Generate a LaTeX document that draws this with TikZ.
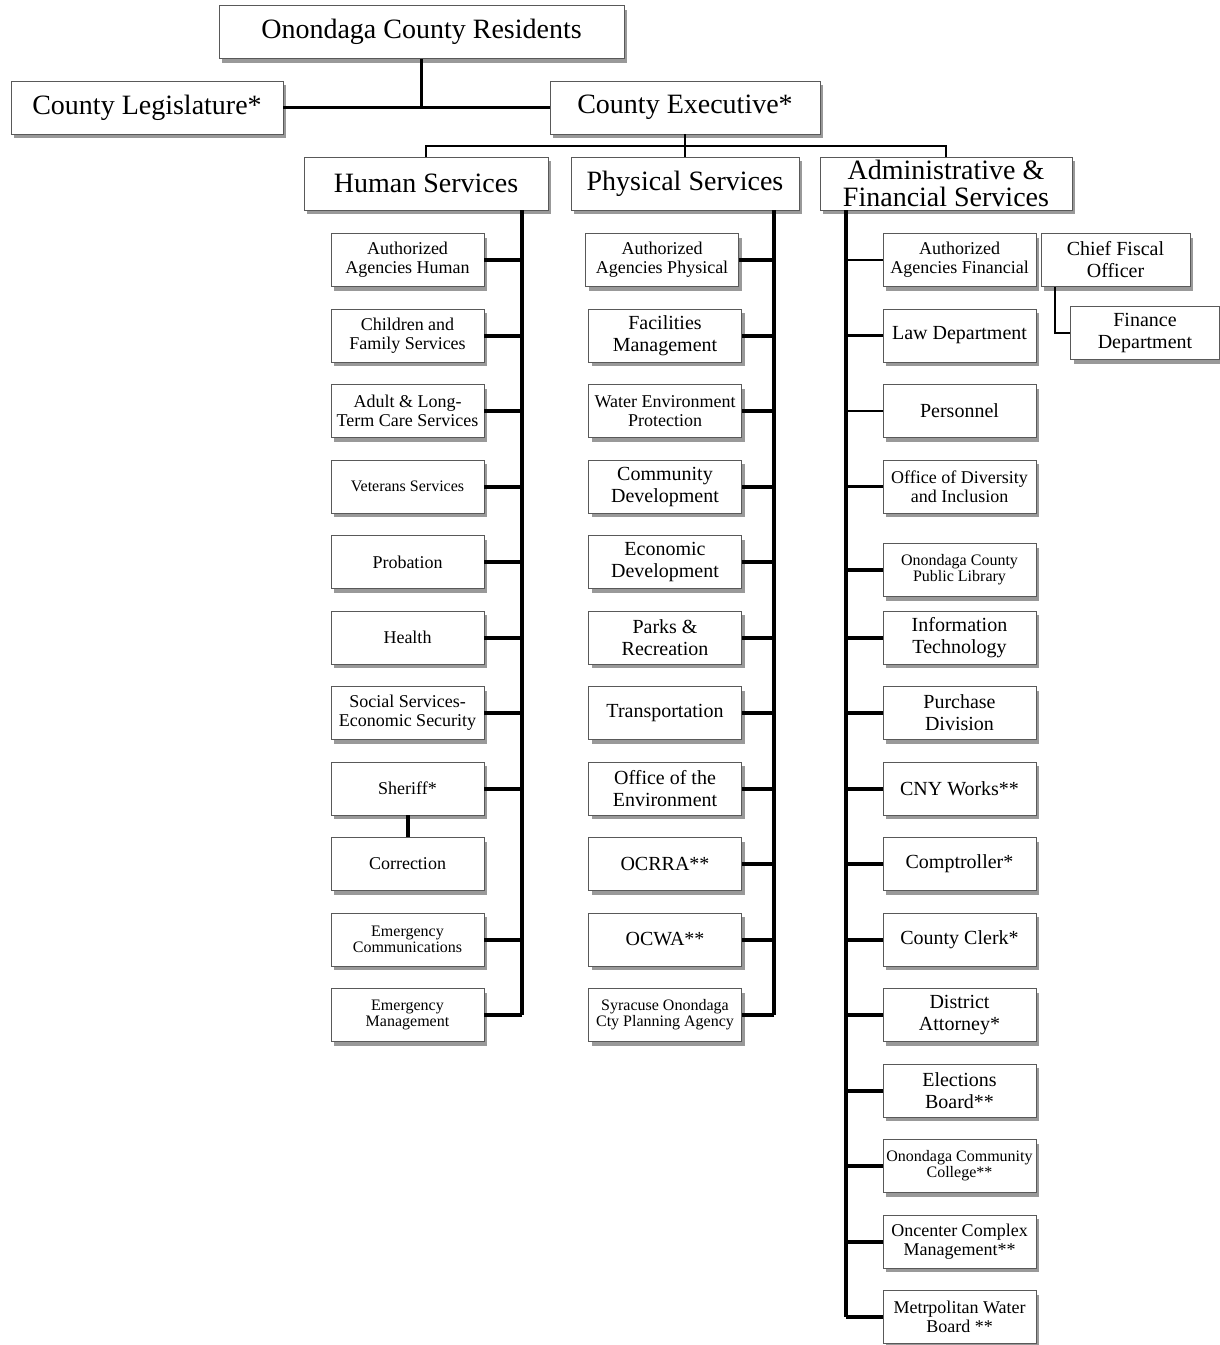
\documentclass[tikz,border=0pt]{standalone}
\usepackage{fontspec}
\setmainfont{Liberation Serif}
\usetikzlibrary{shadows}

\begin{document}
\begin{tikzpicture}[x=1pt,y=-1pt]
		\tikzset{box/.style = {shape=rectangle,draw=black!65,line width=0.9pt,fill=white,
				drop shadow={shadow xshift=3pt,shadow yshift=-4pt,fill=black!40,opacity=1},
				inner sep=1pt,align=center,minimum height=53pt}}
		\tikzset{dept/.style = {box,minimum width=153pt}}
		\tikzset{fbig/.style = {font=\fontsize{28}{27}\selectfont}}
		\tikzset{fmid/.style = {font=\fontsize{20}{22}\selectfont}}
		\tikzset{fsmall/.style = {font=\fontsize{18}{19}\selectfont}}
		\tikzset{ftiny/.style = {font=\fontsize{16}{16}\selectfont}}
		\tikzset{link/.style = {-,line width=2.4pt}}
		\tikzset{trunk/.style = {-,line width=4pt}}
		\useasboundingbox (0,0) rectangle (1220,1345);
		%top
		\node[box,fbig,minimum width=405pt] (res) at (421.5,32) {Onondaga County Residents};
		\node[box,fbig,minimum width=272pt] (leg) at (147,107.5) {County Legislature*};
		\node[box,fbig,minimum width=270pt] (exec) at (685,107.5) {County Executive*};
		\node[box,fbig,minimum width=244pt] (hs) at (426,183.5) {Human Services};
		\node[box,fbig,minimum width=228pt] (ps) at (685,183.5) {Physical Services};
		\node[box,fbig,minimum width=252pt] (afs) at (946,183.5) {Administrative \&\\Financial Services};
		\coordinate (split) at (685,146);
		%human services
		\node[dept,fsmall] (h1) at (407.5,260) {Authorized\\Agencies Human};
		\node[dept,fsmall] (h2) at (407.5,335.5) {Children and\\Family Services};
		\node[dept,fsmall] (h3) at (407.5,411) {Adult \& Long-\\Term Care Services};
		\node[dept,ftiny] (h4) at (407.5,486.5) {Veterans Services};
		\node[dept,fsmall] (h5) at (407.5,562) {Probation};
		\node[dept,fsmall] (h6) at (407.5,637.5) {Health};
		\node[dept,fsmall] (h7) at (407.5,713) {Social Services-\\Economic Security};
		\node[dept,fsmall] (h8) at (407.5,788.5) {Sheriff*};
		\node[dept,fsmall] (h9) at (407.5,864) {Correction};
		\node[dept,ftiny] (h10) at (407.5,939.5) {Emergency\\Communications};
		\node[dept,ftiny] (h11) at (407.5,1015) {Emergency\\Management};
		\coordinate (hend) at (522,1015);
		%physical services
		\node[dept,fsmall] (p1) at (662,260) {Authorized\\Agencies Physical};
		\node[dept,fmid] (p2) at (665,335.5) {Facilities\\Management};
		\node[dept,fsmall] (p3) at (665,411) {Water Environment\\Protection};
		\node[dept,fmid] (p4) at (665,486.5) {Community\\Development};
		\node[dept,fmid] (p5) at (665,562) {Economic\\Development};
		\node[dept,fmid] (p6) at (665,637.5) {Parks \&\\Recreation};
		\node[dept,fmid] (p7) at (665,713) {Transportation};
		\node[dept,fmid] (p8) at (665,788.5) {Office of the\\Environment};
		\node[dept,fmid] (p9) at (665,864) {OCRRA**};
		\node[dept,fmid] (p10) at (665,939.5) {OCWA**};
		\node[dept,ftiny] (p11) at (665,1015) {Syracuse Onondaga\\Cty Planning Agency};
		\coordinate (pend) at (774,1015);
		%administrative and financial services
		\node[dept,fsmall] (a1) at (959.5,260) {Authorized\\Agencies Financial};
		\node[dept,fmid] (a2) at (959.5,335.5) {Law Department};
		\node[dept,fmid] (a3) at (959.5,411) {Personnel};
		\node[dept,fsmall] (a4) at (959.5,486.5) {Office of Diversity\\and Inclusion};
		\node[dept,ftiny] (a5) at (959.5,570) {Onondaga County\\Public Library};
		\node[dept,fmid] (a6) at (959.5,637.5) {Information\\Technology};
		\node[dept,fmid] (a7) at (959.5,713) {Purchase\\Division};
		\node[dept,fmid] (a8) at (959.5,788.5) {CNY Works**};
		\node[dept,fmid] (a9) at (959.5,864) {Comptroller*};
		\node[dept,fmid] (a10) at (959.5,939.5) {County Clerk*};
		\node[dept,fmid] (a11) at (959.5,1015) {District\\Attorney*};
		\node[dept,fmid] (a12) at (959.5,1090.5) {Elections\\Board**};
		\node[dept,ftiny] (a13) at (959.5,1166) {Onondaga Community\\College**};
		\node[dept,fsmall] (a14) at (959.5,1241.5) {Oncenter Complex\\Management**};
		\node[dept,fsmall] (a15) at (959.5,1317) {Metrpolitan Water\\Board **};
		\coordinate (aend) at (846,1317);
		\node[box,fmid,minimum width=149pt] (cfo) at (1115.5,260) {Chief Fiscal\\Officer};
		\node[box,fmid,minimum width=149pt] (fin) at (1145,333) {Finance\\Department};
		%edges
		\draw[link] (res.south) -- (res.south |- leg.east);
		\draw[link] (leg.east) -- (exec.west);
		\draw[link] (exec.south) -- (split);
		\draw[link] (hs.north) |- (split) -| (afs.north);
		\draw[link] (split) -- (ps.north);
		\draw[link] ([xshift=-60.5pt]cfo.south) |- (fin.west);
		%human edges
		\draw[trunk] (hend |- hs.south) -- (hend);
		\draw[trunk] (h1.east) -- (h1.east -| hend);
		\draw[trunk] (h2.east) -- (h2.east -| hend);
		\draw[trunk] (h3.east) -- (h3.east -| hend);
		\draw[trunk] (h4.east) -- (h4.east -| hend);
		\draw[trunk] (h5.east) -- (h5.east -| hend);
		\draw[trunk] (h6.east) -- (h6.east -| hend);
		\draw[trunk] (h7.east) -- (h7.east -| hend);
		\draw[trunk] (h8.east) -- (h8.east -| hend);
		\draw[trunk] (h8.south) -- (h9.north);
		\draw[trunk] (h10.east) -- (h10.east -| hend);
		\draw[trunk] (h11.east) -- (hend);
		%physical edges
		\draw[trunk] (pend |- ps.south) -- (pend);
		\draw[trunk] (p1.east) -- (p1.east -| pend);
		\draw[trunk] (p2.east) -- (p2.east -| pend);
		\draw[trunk] (p3.east) -- (p3.east -| pend);
		\draw[trunk] (p4.east) -- (p4.east -| pend);
		\draw[trunk] (p5.east) -- (p5.east -| pend);
		\draw[trunk] (p6.east) -- (p6.east -| pend);
		\draw[trunk] (p7.east) -- (p7.east -| pend);
		\draw[trunk] (p8.east) -- (p8.east -| pend);
		\draw[trunk] (p9.east) -- (p9.east -| pend);
		\draw[trunk] (p10.east) -- (p10.east -| pend);
		\draw[trunk] (p11.east) -- (pend);
		%administrative edges
		\draw[trunk] (aend |- afs.south) -- (aend);
		\draw[link] (a1.west) -- (a1.west -| aend);
		\draw[link] (a2.west) -- (a2.west -| aend);
		\draw[link] (a3.west) -- (a3.west -| aend);
		\draw[link] (a4.west) -- (a4.west -| aend);
		\draw[trunk] (a5.west) -- (a5.west -| aend);
		\draw[trunk] (a6.west) -- (a6.west -| aend);
		\draw[trunk] (a7.west) -- (a7.west -| aend);
		\draw[trunk] (a8.west) -- (a8.west -| aend);
		\draw[trunk] (a9.west) -- (a9.west -| aend);
		\draw[trunk] (a10.west) -- (a10.west -| aend);
		\draw[trunk] (a11.west) -- (a11.west -| aend);
		\draw[trunk] (a12.west) -- (a12.west -| aend);
		\draw[trunk] (a13.west) -- (a13.west -| aend);
		\draw[trunk] (a14.west) -- (a14.west -| aend);
		\draw[trunk] (a15.west) -- (aend);
\end{tikzpicture}
\end{document}
